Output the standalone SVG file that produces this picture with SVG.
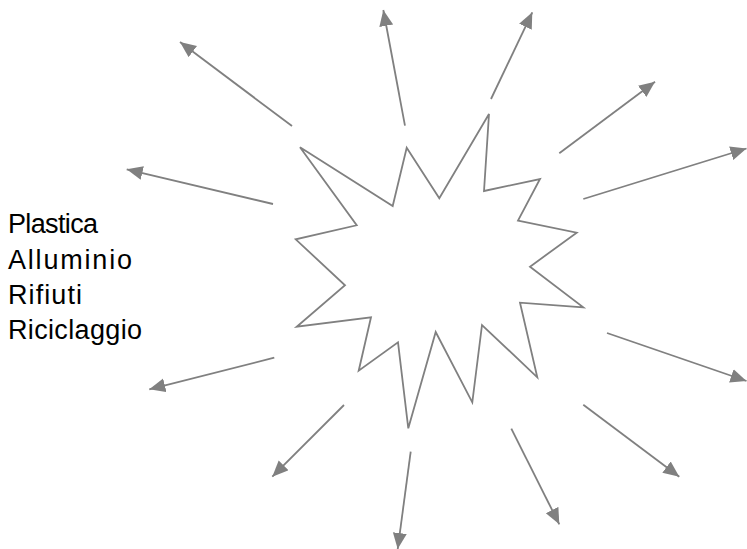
<svg xmlns="http://www.w3.org/2000/svg" width="747" height="549" viewBox="0 0 747 549">
<style>
.st{fill:#ffffff;stroke:#808080;stroke-width:1.8;stroke-linejoin:miter}
.ar{stroke:#808080;stroke-width:1.8;fill:none;marker-end:url(#ah)}
.lbl{font-family:"Liberation Sans",Arial,sans-serif;font-size:27px;fill:#000000}
</style>
<defs>
<marker id="ah" markerUnits="userSpaceOnUse" markerWidth="17" markerHeight="15" refX="16" refY="7" orient="auto">
<path d="M0,0 L16,7 L0,14 z" fill="#808080"/>
</marker>
</defs>
<rect width="747" height="549" fill="#ffffff"/>
<g id="star">
<polygon class="st" points="300,147.3 392.7,206 406.7,147.7 439.3,198.3 489,114 484,191 540,179 518,220.7 576.7,232.7 530,266.7 583.3,307.3 520,302.7 537.3,377.3 482,325 472.3,402.3 435.7,332 408.3,428.3 398,342.3 358.7,370.7 371,317.3 296.7,326.7 345,285.3 295.7,239.3 356.7,225.3"/>
</g>
<g id="labels">
<text class="lbl" x="8" y="233" textLength="90" lengthAdjust="spacing">Plastica</text>
<text class="lbl" x="8" y="268.5" textLength="124" lengthAdjust="spacing">Alluminio</text>
<text class="lbl" x="8" y="303.5" textLength="74" lengthAdjust="spacing">Rifiuti</text>
<text class="lbl" x="8" y="338.5" textLength="134" lengthAdjust="spacing">Riciclaggio</text>
</g>
<g id="connectors">
<line class="ar" x1="292" y1="126" x2="180" y2="42"/>
<line class="ar" x1="405" y1="125.7" x2="383.3" y2="10"/>
<line class="ar" x1="273" y1="204" x2="126.7" y2="169.3"/>
<line class="ar" x1="491" y1="99" x2="532.3" y2="12.3"/>
<line class="ar" x1="559.3" y1="153.3" x2="655" y2="81.7"/>
<line class="ar" x1="583.3" y1="199" x2="746.5" y2="148.5"/>
<line class="ar" x1="274.3" y1="357.7" x2="149.3" y2="389.3"/>
<line class="ar" x1="344" y1="405" x2="272.3" y2="476.7"/>
<line class="ar" x1="410.7" y1="451.7" x2="397.7" y2="549"/>
<line class="ar" x1="607" y1="333" x2="746.5" y2="381"/>
<line class="ar" x1="583.3" y1="404.7" x2="679.3" y2="476.7"/>
<line class="ar" x1="511.3" y1="428.7" x2="559.3" y2="524.3"/>
</g>
</svg>
